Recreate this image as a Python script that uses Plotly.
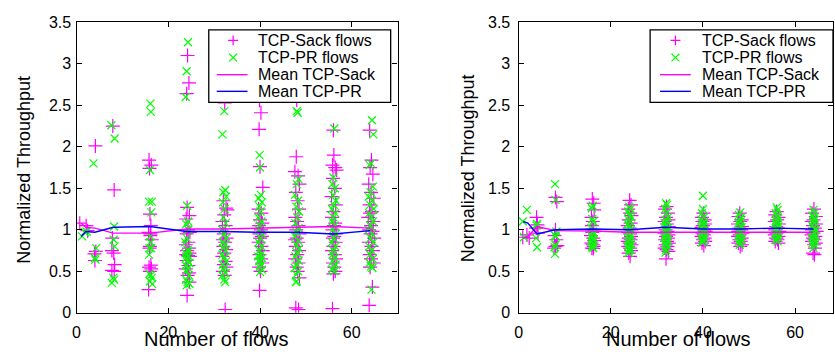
import plotly.graph_objects as go

W, H = 835, 358

FLOWS = [1, 2, 4, 8, 16, 24, 32, 40, 48, 56, 64]

# Left panel: per-flow-count (x, normalized throughput) points
L_SACK = {
    1: [(0.7, 1.08)],
    2: [(2.1, 1.05), (2.4, 0.99)],
    4: [(4.1, 2.01), (4.2, 0.74), (3.9, 0.71), (4.0, 0.63)],
    8: [(7.9, 2.25), (8.2, 1.48), (7.8, 0.90), (7.7, 0.75), (8.1, 0.72), (8.3, 0.58), (7.7, 0.51), (8.2, 0.50)],
    16: [(15.8, 1.84), (16.3, 1.78), (15.9, 1.74), (16.0, 1.19), (16.2, 1.05), (15.7, 0.97), (16.1, 0.95), (16.4, 0.88),
         (16.0, 0.80), (15.9, 0.78), (16.2, 0.575), (15.8, 0.55), (16.3, 0.53), (16.0, 0.50), (15.7, 0.28), (16.1, 0.93)],
    24: [(24.2, 3.10), (24.5, 2.77), (24.0, 2.64), (24.1, 1.27), (24.6, 1.17), (23.9, 1.13), (24.3, 1.00), (24.7, 0.97),
         (24.0, 0.95), (24.4, 0.85), (23.8, 0.82), (24.5, 0.78), (24.1, 0.75), (24.6, 0.72), (23.9, 0.70), (24.3, 0.69),
         (24.7, 0.68), (24.0, 0.63), (24.4, 0.57), (23.8, 0.53), (24.5, 0.48), (24.2, 0.45), (24.6, 0.37), (24.1, 0.21)],
    32: [(32.3, 2.53), (32.0, 1.35), (32.6, 1.26), (32.9, 1.24), (32.2, 1.18), (31.8, 1.10), (32.5, 1.05), (32.1, 0.95),
         (32.7, 0.90), (31.9, 0.88), (32.4, 0.85), (32.0, 0.80), (32.6, 0.76), (32.2, 0.72), (31.8, 0.68), (32.5, 0.62),
         (32.1, 0.58), (32.7, 0.55), (31.9, 0.50), (32.3, 0.45), (32.4, 0.04)],
    40: [(39.9, 2.56), (40.2, 2.41), (39.8, 2.21), (40.0, 1.76), (40.6, 1.51), (39.7, 1.25), (40.3, 1.20), (40.0, 1.12),
         (40.5, 1.08), (39.8, 1.05), (40.2, 1.00), (40.7, 0.97), (39.9, 0.95), (40.4, 0.92), (40.0, 0.90), (39.7, 0.85),
         (40.3, 0.80), (40.6, 0.75), (39.9, 0.70), (40.2, 0.65), (40.5, 0.60), (39.8, 0.55), (40.1, 0.50), (39.9, 0.27)],
    48: [(48.0, 2.56), (47.9, 1.88), (47.6, 1.70), (48.3, 1.65), (48.6, 1.55), (47.8, 1.45), (48.2, 1.35), (48.5, 1.25),
         (47.7, 1.15), (48.1, 1.10), (48.4, 1.05), (47.9, 1.00), (48.6, 0.95), (48.0, 0.90), (47.6, 0.88), (48.3, 0.85),
         (47.8, 0.80), (48.5, 0.75), (48.1, 0.70), (47.7, 0.65), (48.4, 0.60), (48.0, 0.55), (48.2, 0.50), (48.6, 0.42),
         (47.8, 0.06), (48.4, 0.04)],
    56: [(56.0, 2.20), (56.1, 1.90), (55.8, 1.78), (56.4, 1.75), (56.7, 1.72), (55.9, 1.62), (56.3, 1.50), (55.6, 1.40),
         (56.5, 1.30), (56.0, 1.22), (55.7, 1.15), (56.4, 1.08), (56.1, 1.05), (55.8, 1.00), (56.6, 0.95), (56.2, 0.92),
         (55.9, 0.90), (56.5, 0.85), (56.0, 0.80), (55.7, 0.75), (56.3, 0.70), (56.6, 0.65), (55.9, 0.60), (56.2, 0.55),
         (56.4, 0.50), (56.0, 0.47), (55.8, 0.05)],
    64: [(63.9, 2.20), (64.3, 1.84), (64.0, 1.75), (64.6, 1.67), (63.7, 1.55), (64.2, 1.45), (64.8, 1.38), (63.9, 1.30),
         (64.4, 1.22), (64.0, 1.20), (63.6, 1.15), (64.7, 1.10), (64.2, 1.05), (63.8, 1.00), (64.5, 0.98), (64.1, 0.95),
         (64.9, 0.90), (63.7, 0.85), (64.3, 0.80), (64.6, 0.75), (63.9, 0.70), (64.2, 0.65), (64.8, 0.60), (64.0, 0.55),
         (64.5, 0.31), (63.8, 0.09)],
}

L_PR = {
    1: [(1.2, 0.92)],
    2: [(2.2, 0.98), (1.8, 0.97)],
    4: [(3.7, 1.80), (4.3, 0.78), (4.0, 0.66), (4.1, 0.64)],
    8: [(7.6, 2.26), (8.3, 2.10), (8.2, 1.04), (8.1, 0.88), (8.3, 0.80), (8.0, 0.42), (7.7, 0.36), (8.2, 0.40)],
    16: [(16.1, 2.52), (16.2, 2.42), (16.0, 1.72), (15.8, 1.34), (16.4, 1.34), (16.3, 1.21), (16.1, 0.85), (15.9, 0.78),
         (16.0, 0.92), (15.8, 0.70), (15.9, 0.47), (16.2, 0.45), (16.4, 0.42), (16.0, 0.38), (16.5, 0.345), (16.3, 0.78)],
    24: [(24.3, 3.26), (24.0, 2.91), (23.8, 2.60), (24.1, 1.29), (24.3, 1.10), (23.9, 1.07), (24.4, 1.00), (24.0, 0.90),
         (23.7, 0.85), (24.2, 0.76), (24.5, 0.74), (23.8, 0.72), (24.1, 0.70), (24.4, 0.68), (23.9, 0.66), (24.2, 0.63),
         (24.6, 0.60), (23.8, 0.57), (24.3, 0.54), (24.0, 0.50), (24.5, 0.45), (23.9, 0.40), (24.2, 0.37), (24.6, 0.35),
         (24.0, 0.33)],
    32: [(32.2, 2.43), (31.8, 2.15), (32.4, 1.48), (32.0, 1.45), (32.6, 1.40), (31.9, 1.33), (32.3, 1.25), (32.0, 1.15),
         (32.5, 1.08), (31.8, 1.00), (32.2, 0.95), (32.6, 0.90), (31.9, 0.85), (32.3, 0.82), (32.0, 0.78), (32.5, 0.75),
         (31.8, 0.70), (32.2, 0.66), (32.6, 0.62), (31.9, 0.58), (32.3, 0.55), (32.0, 0.52), (32.5, 0.48), (31.8, 0.45),
         (32.2, 0.40), (32.4, 0.37)],
    40: [(39.9, 1.90), (40.0, 1.75), (40.2, 1.42), (39.7, 1.38), (40.4, 1.33), (39.9, 1.28), (40.1, 1.22), (39.6, 1.15),
         (40.3, 1.10), (40.0, 1.05), (39.8, 1.00), (40.4, 0.95), (40.1, 0.90), (39.7, 0.85), (40.3, 0.80), (39.9, 0.75),
         (40.2, 0.70), (39.6, 0.68), (40.4, 0.66), (40.0, 0.63), (39.8, 0.62), (40.2, 0.58), (39.9, 0.55), (40.4, 0.52),
         (40.0, 0.49)],
    48: [(48.0, 2.43), (48.2, 2.41), (48.4, 1.61), (48.0, 1.55), (47.6, 1.42), (48.3, 1.35), (47.9, 1.28), (48.5, 1.22),
         (48.1, 1.15), (47.7, 1.08), (48.4, 1.02), (48.0, 0.97), (47.6, 0.92), (48.3, 0.87), (47.9, 0.82), (48.5, 0.77),
         (48.1, 0.72), (47.7, 0.68), (48.4, 0.63), (48.0, 0.58), (47.6, 0.54), (48.3, 0.50), (47.9, 0.46), (48.0, 0.38),
         (47.8, 0.37)],
    56: [(56.2, 2.22), (56.0, 1.63), (55.8, 1.55), (56.3, 1.50), (55.9, 1.42), (56.5, 1.35), (56.1, 1.30), (55.7, 1.25),
         (56.4, 1.20), (56.0, 1.15), (55.8, 1.10), (56.3, 1.05), (55.9, 1.00), (56.5, 0.95), (56.1, 0.90), (55.7, 0.85),
         (56.4, 0.80), (56.0, 0.75), (55.8, 0.70), (56.3, 0.66), (55.9, 0.62), (56.5, 0.58), (56.1, 0.55), (55.7, 0.52),
         (56.2, 0.50)],
    64: [(64.4, 2.32), (64.7, 2.15), (64.2, 1.80), (63.9, 1.78), (64.6, 1.52), (64.1, 1.45), (63.7, 1.40), (64.4, 1.35),
         (64.0, 1.30), (64.8, 1.25), (63.8, 1.20), (64.3, 1.15), (64.6, 1.10), (64.0, 1.05), (63.7, 1.00), (64.4, 0.95),
         (64.1, 0.90), (64.7, 0.85), (63.8, 0.80), (64.3, 0.75), (64.0, 0.70), (64.6, 0.65), (63.9, 0.60), (64.2, 0.56),
         (64.5, 0.54), (64.3, 0.28)],
}

# Right panel
R_SACK = {
    1: [(0.9, 0.91)],
    2: [(1.8, 0.94), (2.3, 0.90)],
    4: [(3.9, 1.15), (4.1, 1.06), (3.8, 1.02), (4.2, 0.96)],
    8: [(8.0, 1.39), (8.3, 1.34), (8.0, 1.00), (7.8, 0.93), (8.4, 0.81), (8.0, 0.80), (7.7, 0.78), (8.2, 0.88)],
    16: [(16.0, 1.37), (16.3, 1.32), (16.4, 1.24), (15.8, 1.15), (16.1, 1.10), (15.9, 1.05), (16.3, 1.00), (16.0, 0.97),
         (15.7, 0.93), (16.2, 0.90), (16.4, 0.87), (15.8, 0.84), (16.1, 0.82), (16.3, 0.80), (15.9, 0.78), (16.2, 0.775)],
    24: [(24.1, 1.355), (24.4, 1.30), (23.8, 1.25), (24.2, 1.20), (24.5, 1.17), (23.9, 1.12), (24.3, 1.08), (23.7, 1.05),
         (24.1, 1.02), (24.5, 1.00), (23.8, 0.97), (24.2, 0.95), (24.4, 0.92), (23.9, 0.90), (24.3, 0.88), (23.7, 0.86),
         (24.1, 0.84), (24.5, 0.82), (23.8, 0.80), (24.2, 0.78), (24.4, 0.75), (23.9, 0.72), (24.2, 0.68)],
    32: [(32.1, 1.28), (31.8, 1.25), (32.4, 1.20), (32.0, 1.15), (32.5, 1.12), (31.7, 1.10), (32.2, 1.07), (32.6, 1.04),
         (31.9, 1.00), (32.3, 0.98), (31.7, 0.96), (32.5, 0.94), (32.0, 0.92), (32.4, 0.90), (31.8, 0.88), (32.2, 0.86),
         (32.6, 0.84), (31.9, 0.82), (32.3, 0.80), (31.7, 0.78), (32.1, 0.76), (32.5, 0.74), (32.0, 0.65)],
    40: [(40.1, 1.20), (39.8, 1.15), (40.4, 1.12), (39.9, 1.10), (40.5, 1.07), (40.0, 1.05), (39.7, 1.03), (40.3, 1.00),
         (40.6, 0.98), (39.9, 0.96), (40.2, 0.94), (39.7, 0.92), (40.4, 0.90), (40.0, 0.88), (40.5, 0.86), (39.8, 0.84),
         (40.2, 0.81)],
    48: [(48.0, 1.20), (47.7, 1.16), (48.4, 1.12), (48.1, 1.10), (47.6, 1.07), (48.5, 1.04), (47.9, 1.02), (48.3, 1.00),
         (47.7, 0.98), (48.6, 0.96), (48.0, 0.94), (47.6, 0.92), (48.4, 0.90), (47.9, 0.88), (48.2, 0.86), (47.7, 0.84),
         (48.5, 0.82), (48.1, 0.80)],
    56: [(56.0, 1.22), (55.7, 1.18), (56.4, 1.15), (56.1, 1.12), (55.6, 1.10), (56.5, 1.07), (55.9, 1.04), (56.3, 1.02),
         (55.7, 1.00), (56.6, 0.98), (56.0, 0.96), (55.6, 0.94), (56.4, 0.92), (55.9, 0.90), (56.2, 0.88), (55.7, 0.86),
         (56.4, 0.84)],
    64: [(64.1, 1.25), (63.7, 1.20), (64.5, 1.16), (64.0, 1.12), (63.6, 1.10), (64.6, 1.07), (63.9, 1.05), (64.3, 1.02),
         (63.7, 1.00), (64.7, 0.98), (64.0, 0.96), (63.6, 0.94), (64.4, 0.92), (63.9, 0.90), (64.2, 0.88), (63.7, 0.86),
         (64.5, 0.84), (64.1, 0.82), (64.3, 0.78), (63.9, 0.72), (64.2, 0.70)],
}

R_PR = {
    1: [(0.9, 1.10)],
    2: [(1.8, 1.24), (1.2, 0.91)],
    4: [(4.0, 1.07), (3.9, 1.05), (3.8, 0.90), (4.0, 0.79)],
    8: [(7.9, 1.55), (8.0, 1.36), (7.9, 0.93), (8.1, 0.92), (7.8, 0.79), (7.9, 0.71), (8.2, 0.98), (8.0, 0.82)],
    16: [(16.1, 1.29), (15.9, 1.26), (16.0, 1.13), (16.2, 1.10), (15.8, 1.02), (16.1, 0.98), (16.3, 0.95), (15.9, 0.92),
         (16.0, 0.90), (16.2, 0.88), (15.8, 0.86), (16.1, 0.84), (16.3, 0.82), (15.9, 0.80), (16.0, 0.79), (16.2, 0.78)],
    24: [(24.0, 1.28), (24.3, 1.25), (23.8, 1.22), (24.1, 1.18), (24.4, 1.15), (23.9, 1.12), (24.2, 1.10), (23.7, 1.07),
         (24.0, 1.04), (24.4, 1.00), (23.8, 0.98), (24.1, 0.95), (24.3, 0.92), (23.9, 0.90), (24.2, 0.88), (23.7, 0.86),
         (24.0, 0.84), (24.4, 0.82), (23.8, 0.80), (24.1, 0.78), (24.3, 0.76), (24.0, 0.75), (23.9, 0.72)],
    32: [(32.0, 1.32), (32.2, 1.30), (31.8, 1.25), (32.1, 1.20), (32.4, 1.15), (31.9, 1.12), (32.2, 1.10), (31.7, 1.08),
         (32.0, 1.05), (32.4, 1.02), (31.8, 1.00), (32.1, 0.98), (32.3, 0.96), (31.9, 0.94), (32.2, 0.92), (31.7, 0.90),
         (32.0, 0.88), (32.4, 0.86), (31.8, 0.84), (32.1, 0.82), (32.3, 0.80), (32.0, 0.76), (31.9, 0.725)],
    40: [(40.0, 1.41), (40.0, 1.25), (39.8, 1.20), (40.2, 1.15), (39.7, 1.12), (40.3, 1.10), (39.9, 1.08), (40.1, 1.05),
         (39.7, 1.02), (40.3, 1.00), (39.9, 0.98), (40.2, 0.96), (39.8, 0.94), (40.1, 0.92), (40.3, 0.90), (39.9, 0.88),
         (40.2, 0.86), (39.8, 0.85)],
    48: [(48.1, 1.21), (47.8, 1.18), (48.3, 1.15), (47.9, 1.12), (48.2, 1.10), (47.7, 1.08), (48.1, 1.05), (48.4, 1.03),
         (47.8, 1.00), (48.2, 0.98), (47.9, 0.96), (48.3, 0.94), (47.7, 0.92), (48.1, 0.90), (48.4, 0.88), (47.8, 0.86),
         (48.2, 0.84), (48.0, 0.82)],
    56: [(56.0, 1.27), (56.2, 1.24), (55.8, 1.20), (56.1, 1.17), (56.3, 1.14), (55.9, 1.12), (56.2, 1.10), (55.7, 1.08),
         (56.1, 1.06), (56.4, 1.04), (55.8, 1.02), (56.2, 1.00), (55.9, 0.98), (56.3, 0.96), (55.7, 0.94), (56.1, 0.92),
         (56.4, 0.90), (55.8, 0.88), (56.2, 0.86)],
    64: [(64.0, 1.24), (64.2, 1.20), (63.8, 1.17), (64.1, 1.14), (64.3, 1.12), (63.9, 1.10), (64.2, 1.08), (63.7, 1.05),
         (64.1, 1.03), (64.4, 1.00), (63.8, 0.98), (64.2, 0.96), (63.9, 0.94), (64.3, 0.92), (63.7, 0.90), (64.1, 0.88),
         (64.4, 0.86), (63.8, 0.84), (64.2, 0.82), (64.0, 0.78)],
}

L_MEAN_SACK = [1.08, 1.03, 1.02, 0.96, 0.96, 1.01, 1.01, 1.02, 1.03, 1.04, 1.02]
L_MEAN_PR = [0.92, 0.98, 0.97, 1.03, 1.04, 0.98, 0.98, 0.97, 0.97, 0.95, 0.99]
R_MEAN_SACK = [0.90, 0.92, 1.04, 0.99, 0.985, 0.97, 0.97, 0.97, 0.97, 0.97, 0.97]
R_MEAN_PR = [1.10, 1.08, 0.95, 1.00, 1.01, 1.00, 1.03, 1.01, 1.01, 1.02, 1.01]

Y_TICKS = [0, 0.5, 1, 1.5, 2, 2.5, 3, 3.5]
Y_LABELS = ["0", "0.5", "1", "1.5", "2", "2.5", "3", "3.5"]
X_TICKS = [0, 20, 40, 60]

NAMES = ["TCP-Sack flows", "TCP-PR flows", "Mean TCP-Sack", "Mean TCP-PR"]
X_TITLE = "Number of flows"
Y_TITLE = "Normalized Throughput"

MAGENTA = "#FF00FF"
GREEN = "#00FF00"
BLUE = "#0000FF"
FONT = "Arial, Liberation Sans, sans-serif"


def flatten(d):
    xs, ys = [], []
    for k in FLOWS:
        for x, y in d[k]:
            xs.append(x)
            ys.append(y)
    return xs, ys


fig = go.Figure()

panels = [
    ("x", "y", L_SACK, L_PR, L_MEAN_SACK, L_MEAN_PR),
    ("x2", "y2", R_SACK, R_PR, R_MEAN_SACK, R_MEAN_PR),
]
for xa, ya, sack, pr, msack, mpr in panels:
    sx, sy = flatten(sack)
    px_, py_ = flatten(pr)
    fig.add_trace(go.Scatter(x=sx, y=sy, mode="markers", name=NAMES[0], xaxis=xa, yaxis=ya, showlegend=False,
                             marker=dict(symbol="cross-thin", size=10, line=dict(color=MAGENTA, width=1.2), color=MAGENTA)))
    fig.add_trace(go.Scatter(x=px_, y=py_, mode="markers", name=NAMES[1], xaxis=xa, yaxis=ya, showlegend=False,
                             marker=dict(symbol="x-thin", size=8, line=dict(color=GREEN, width=1.2), color=GREEN)))
    fig.add_trace(go.Scatter(x=FLOWS, y=msack, mode="lines", name=NAMES[2], xaxis=xa, yaxis=ya, showlegend=False,
                             line=dict(color=MAGENTA, width=1.4)))
    fig.add_trace(go.Scatter(x=FLOWS, y=mpr, mode="lines", name=NAMES[3], xaxis=xa, yaxis=ya, showlegend=False,
                             line=dict(color=BLUE, width=1.4)))


def px(v):
    return v / W


def py(v):
    return 1 - v / H


axis_common = dict(showline=True, linecolor="black", linewidth=1.3, mirror="ticks", ticks="inside",
                   ticklen=5, tickcolor="black", showgrid=False, zeroline=False,
                   tickfont=dict(family=FONT, size=16, color="black"))

ydom = [py(320), py(15)]

shapes = []
annotations = []


def add_legend(bx0, bx1, by0, by1, sym_x, lx0, lx1, tx, rows):
    shapes.append(dict(type="rect", xref="paper", yref="paper", x0=px(bx0), x1=px(bx1), y0=py(by1), y1=py(by0),
                       fillcolor="white", line=dict(color="black", width=1.3), layer="above"))
    r = 5
    y0 = rows[0]
    shapes.append(dict(type="path", xref="paper", yref="paper", layer="above",
                       path=f"M{px(sym_x - r)},{py(y0)} L{px(sym_x + r)},{py(y0)} M{px(sym_x)},{py(y0 - r)} L{px(sym_x)},{py(y0 + r)}",
                       line=dict(color=MAGENTA, width=1.2)))
    y1 = rows[1]
    q = 4
    shapes.append(dict(type="path", xref="paper", yref="paper", layer="above",
                       path=f"M{px(sym_x - q)},{py(y1 - q)} L{px(sym_x + q)},{py(y1 + q)} M{px(sym_x - q)},{py(y1 + q)} L{px(sym_x + q)},{py(y1 - q)}",
                       line=dict(color=GREEN, width=1.2)))
    for yy, col in ((rows[2], MAGENTA), (rows[3], BLUE)):
        shapes.append(dict(type="line", xref="paper", yref="paper", layer="above",
                           x0=px(lx0), x1=px(lx1), y0=py(yy), y1=py(yy), line=dict(color=col, width=1.4)))
    for yy, name in zip(rows, NAMES):
        annotations.append(dict(text=name, x=px(tx), y=py(yy), xref="paper", yref="paper", showarrow=False,
                                xanchor="left", yanchor="middle", font=dict(family=FONT, size=16, color="black")))


add_legend(206, 389, 23, 99, 230.5, 214, 245, 254, [34, 52, 70, 87.5])
add_legend(650, 834, 23, 99, 675.5, 660, 691, 700, [34, 52, 70, 87.5])

annotations += [
    dict(text=Y_TITLE, x=px(20), y=py(170), xref="paper", yref="paper", textangle=-90,
         showarrow=False, font=dict(family=FONT, size=18, color="black"), xanchor="center", yanchor="middle"),
    dict(text=Y_TITLE, x=px(467), y=py(168), xref="paper", yref="paper", textangle=-90,
         showarrow=False, font=dict(family=FONT, size=18, color="black"), xanchor="center", yanchor="middle"),
    dict(text=X_TITLE, x=px(214), y=py(361), xref="paper", yref="paper",
         showarrow=False, font=dict(family=FONT, size=20, color="black"), xanchor="center", yanchor="bottom"),
    dict(text=X_TITLE, x=px(679), y=py(361), xref="paper", yref="paper",
         showarrow=False, font=dict(family=FONT, size=20, color="black"), xanchor="center", yanchor="bottom"),
]

fig.update_layout(
    width=W, height=H, margin=dict(l=0, r=0, t=0, b=0),
    paper_bgcolor="white", plot_bgcolor="white", showlegend=False,
    xaxis=dict(domain=[px(73), px(396)], range=[0, 70], tickvals=X_TICKS, anchor="y", ticklabelstandoff=5, **axis_common),
    yaxis=dict(domain=ydom, range=[0, 3.5], tickvals=Y_TICKS, ticktext=Y_LABELS, anchor="x", ticklabelstandoff=1, **axis_common),
    xaxis2=dict(domain=[px(517.7), px(834.3)], range=[0, 68.3], tickvals=X_TICKS, anchor="y2", ticklabelstandoff=5, **axis_common),
    yaxis2=dict(domain=ydom, range=[0, 3.5], tickvals=Y_TICKS, ticktext=Y_LABELS, anchor="x2", ticklabelstandoff=4, **axis_common),
    shapes=shapes,
    annotations=annotations,
)

fig.write_html("out.html")
